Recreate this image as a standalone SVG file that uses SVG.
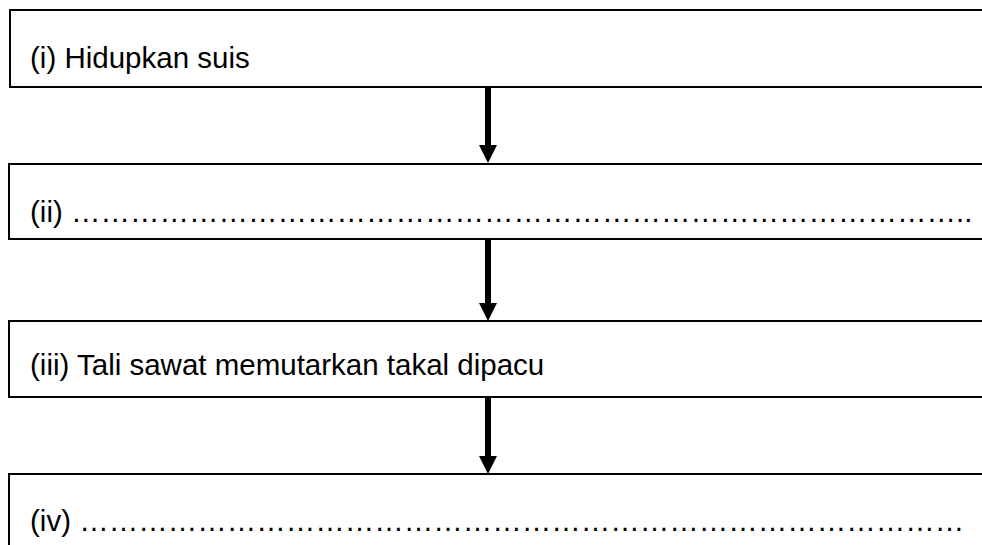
<svg xmlns="http://www.w3.org/2000/svg" width="982" height="545" viewBox="0 0 982 545">
<style>
.box{fill:#ffffff;stroke:#000000;stroke-width:2}
.lbl{font-family:"Liberation Sans",Arial,sans-serif;font-size:29.5px;fill:#000000}
.shaft{stroke:#000000;stroke-width:6;fill:none}
.head{fill:#000000}
</style>
<rect width="982" height="545" fill="#ffffff"/>
<g id="connectors">
<line class="shaft" x1="488" y1="87" x2="488" y2="147"/>
<polygon class="head" points="479,145 497,145 488,163"/>
<line class="shaft" x1="488" y1="239" x2="488" y2="305"/>
<polygon class="head" points="479,303 497,303 488,321"/>
<line class="shaft" x1="488" y1="397" x2="488" y2="458"/>
<polygon class="head" points="479,456 497,456 488,474"/>
</g>
<g id="node1">
<rect class="box" x="10" y="10" width="990" height="77"/>
<text class="lbl" x="30" y="68">(i) Hidupkan suis</text>
</g>
<g id="node2">
<rect class="box" x="9" y="164" width="990" height="75"/>
<text class="lbl" x="30" y="222">(ii) &#8230;&#8230;&#8230;&#8230;&#8230;&#8230;&#8230;&#8230;&#8230;&#8230;&#8230;&#8230;&#8230;&#8230;&#8230;&#8230;&#8230;&#8230;&#8230;&#8230;&#8230;&#8230;&#8230;&#8230;&#8230;&#8230;&#8230;&#8230;&#8230;&#8230;..</text>
</g>
<g id="node3">
<rect class="box" x="9" y="321" width="990" height="76"/>
<text class="lbl" x="30" y="375">(iii) Tali sawat memutarkan takal dipacu</text>
</g>
<g id="node4">
<rect class="box" x="9" y="474" width="990" height="100"/>
<text class="lbl" x="30" y="531">(iv) &#8230;&#8230;&#8230;&#8230;&#8230;&#8230;&#8230;&#8230;&#8230;&#8230;&#8230;&#8230;&#8230;&#8230;&#8230;&#8230;&#8230;&#8230;&#8230;&#8230;&#8230;&#8230;&#8230;&#8230;&#8230;&#8230;&#8230;&#8230;&#8230;&#8230;</text>
</g>
</svg>
